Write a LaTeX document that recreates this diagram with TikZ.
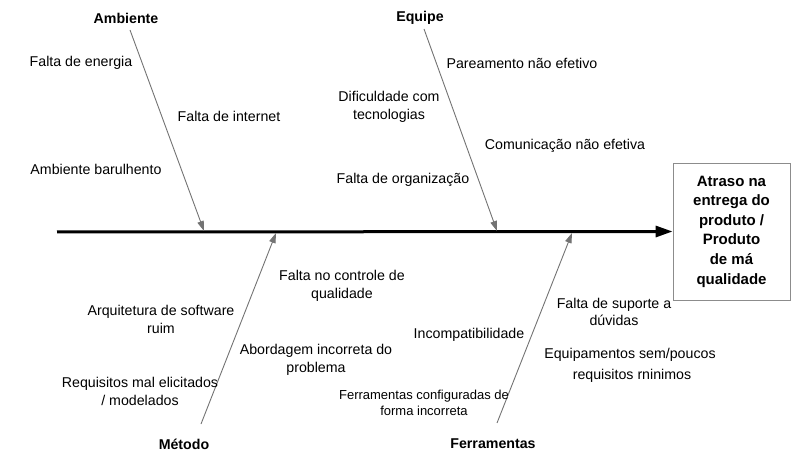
\documentclass[tikz,border=0pt]{standalone}
\usepackage{fontspec}
\setmainfont{Liberation Sans}
\usetikzlibrary{arrows.meta}
\begin{document}
\begin{tikzpicture}[x=1pt,y=-1pt,
  lbl/.style={font=\fontsize{14.2}{17.5}\selectfont, align=center, inner sep=0pt, text=black},
  small/.style={font=\fontsize{13}{16}\selectfont, align=center, inner sep=0pt},
  title/.style={font=\fontsize{14.2}{17}\selectfont\bfseries, inner sep=0pt},
  bone/.style={draw=black!55, line width=0.9pt, -{Triangle[length=10pt,width=6.5pt]}},
  spine/.style={draw=black, line width=3pt, -{Triangle[length=17pt,width=11pt]}},
  effectbox/.style={draw=black!45, line width=0.8pt, minimum width=117pt, minimum height=137pt,
    font=\fontsize{15}{19.6}\selectfont\bfseries, align=center, inner sep=0pt}]
\useasboundingbox (0,0) rectangle (803,462);

% effect box
\node[effectbox] (effect) at (731.5,231.5) {Atraso na\\entrega do\\produto /\\Produto\\de má\\qualidade};

% spine
\coordinate (tail) at (57,232);
\draw[spine] (tail) -- (effect.west);

% bone coordinates
\coordinate (ambS) at (130,30);  \coordinate (ambE) at (204,231);
\coordinate (equS) at (424,29);  \coordinate (equE) at (497,231);
\coordinate (metS) at (201,424); \coordinate (metE) at (276,233);
\coordinate (ferS) at (497,423); \coordinate (ferE) at (572,233);
\draw[bone] (ambS) -- (ambE);
\draw[bone] (equS) -- (equE);
\draw[bone] (metS) -- (metE);
\draw[bone] (ferS) -- (ferE);

% titles
\node[title] (amb) at (126,18) {Ambiente};
\node[title] (equ) at (420,18) {Equipe};
\node[title] (met) at (184,444) {Método};
\node[title] (fer) at (493,444) {Ferramentas};

% Ambiente causes
\node[lbl] (a1) at (81,63) {Falta de energia};
\node[lbl] (a2) at (229,116) {Falta de internet};
\node[lbl] (a3) at (96,169) {Ambiente barulhento};

% Equipe causes
\node[lbl] (e1) at (522,63) {Pareamento não efetivo};
\node[lbl] (e2) at (389,107) {Dificuldade com\\tecnologias};
\node[lbl] (e3) at (565,146) {Comunicação não efetiva};
\node[lbl] (e4) at (403,180) {Falta de organização};

% Metodo causes
\node[lbl] (m1) at (342,286) {Falta no controle de\\qualidade};
\node[lbl] (m2) at (161,319.5) {Arquitetura de software\\ruim};
\node[lbl] (m3) at (316,360) {Abordagem incorreta do\\problema};
\node[lbl] (m4) at (140,391.5) {Requisitos mal elicitados\\/ modelados};

% Ferramentas causes
\node[lbl] (f1) at (469,335) {Incompatibilidade};
\node[small] (f2) at (424,403) {Ferramentas configuradas de\\forma incorreta};
\node[lbl] (f3) at (614,312) {Falta de suporte a\\dúvidas};
\node[lbl] (f4) at (630,355) {Equipamentos sem/poucos};
\node[lbl] (f5) at (632,376) {requisitos rninimos};
\end{tikzpicture}
\end{document}
